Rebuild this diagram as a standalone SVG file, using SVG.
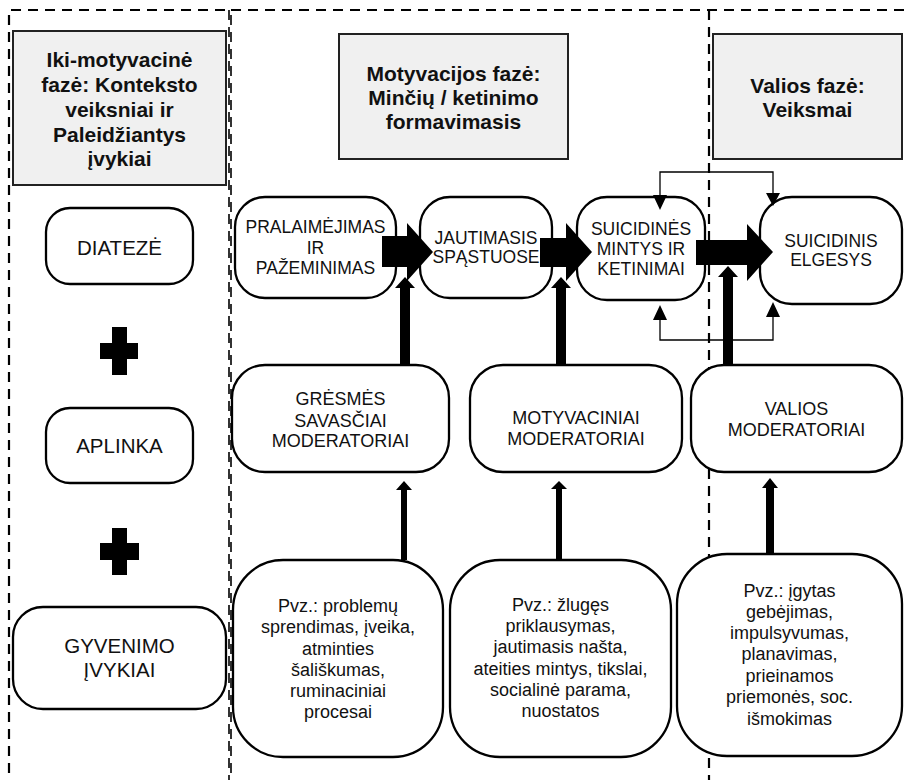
<svg xmlns="http://www.w3.org/2000/svg" width="906" height="780" viewBox="0 0 906 780">
<style>
.frame{fill:none;stroke:#000;stroke-width:2.2;stroke-dasharray:10 7}
.frame2{fill:none;stroke:#000;stroke-width:1.6;stroke-dasharray:10 7}
.hdr{fill:#f0f0f0;stroke:#222;stroke-width:2}
.ht{font-family:"Liberation Sans",Arial,sans-serif;font-weight:bold;font-size:21px;fill:#111;text-anchor:middle}
.box{fill:#fff;stroke:#000;stroke-width:2.3}
.t20{font-family:"Liberation Sans",Arial,sans-serif;font-size:20.5px;fill:#111;text-anchor:middle}
.t18{font-family:"Liberation Sans",Arial,sans-serif;font-size:18px;fill:#111;text-anchor:middle}
.t17{font-family:"Liberation Sans",Arial,sans-serif;font-size:17.5px;fill:#111;text-anchor:middle}
.big{fill:#000}
.thin{fill:none;stroke:#000;stroke-width:1.3}
</style>
<g id="frame">
<path class="frame" d="M9,790 V10 H229"/>
<path class="frame2" d="M229,10 V790"/>
<path class="frame2" d="M231,790 V10"/>
<path class="frame" d="M231,10 H910"/>
<path class="frame" d="M709,10 V780"/>
</g>
<g id="header-pre">
<rect class="hdr" x="13" y="31" width="213" height="154"/>
<text class="ht" x="119.5" y="67">Iki-motyvacinė</text>
<text class="ht" x="119.5" y="92">fazė: Konteksto</text>
<text class="ht" x="119.5" y="117">veiksniai ir</text>
<text class="ht" x="119.5" y="142">Paleidžiantys</text>
<text class="ht" x="119.5" y="166">įvykiai</text>
</g>
<g id="header-mot">
<rect class="hdr" x="339" y="34" width="229" height="125"/>
<text class="ht" x="453.5" y="81">Motyvacijos fazė:</text>
<text class="ht" x="453.5" y="105">Minčių / ketinimo</text>
<text class="ht" x="453.5" y="129">formavimasis</text>
</g>
<g id="header-val">
<rect class="hdr" x="713" y="34" width="189" height="125"/>
<text class="ht" x="807.5" y="93">Valios fazė:</text>
<text class="ht" x="807.5" y="117">Veiksmai</text>
</g>
<g id="diateze">
<rect class="box" x="46" y="208" width="147" height="76" rx="24"/>
<text class="t20" x="119.5" y="255">DIATEZĖ</text>
</g>
<g id="plus1">
<path class="big" d="M112,327 H127 V343 H138 V359 H127 V375 H112 V359 H100 V343 H112 Z"/>
</g>
<g id="aplinka">
<rect class="box" x="46" y="408" width="147" height="75" rx="24"/>
<text class="t20" x="119.5" y="453">APLINKA</text>
</g>
<g id="plus2">
<path class="big" d="M112,528 H127 V543 H139 V560 H127 V575 H112 V560 H100 V543 H112 Z"/>
</g>
<g id="gyvenimo">
<rect class="box" x="13" y="607" width="213" height="102" rx="30"/>
<text class="t20" x="119.5" y="653">GYVENIMO</text>
<text class="t20" x="119.5" y="677">ĮVYKIAI</text>
</g>
<g id="pralaimejimas">
<rect class="box" x="235" y="197" width="161" height="101" rx="30"/>
<text class="t17" x="315.5" y="233">PRALAIMĖJIMAS</text>
<text class="t17" x="315.5" y="254">IR</text>
<text class="t17" x="315.5" y="274">PAŽEMINIMAS</text>
</g>
<g id="jautimasis">
<rect class="box" x="420" y="197" width="132" height="101" rx="30"/>
<text class="t17" x="486" y="244">JAUTIMASIS</text>
<text class="t17" x="486" y="263">SPĄSTUOSE</text>
</g>
<g id="mintys">
<rect class="box" x="577" y="197" width="128" height="103" rx="30"/>
<text class="t17" x="641" y="235">SUICIDINĖS</text>
<text class="t17" x="641" y="255">MINTYS IR</text>
<text class="t17" x="641" y="275">KETINIMAI</text>
</g>
<g id="elgesys">
<rect class="box" x="760" y="197" width="142" height="107" rx="32"/>
<text class="t17" x="831" y="247">SUICIDINIS</text>
<text class="t17" x="831" y="266">ELGESYS</text>
</g>
<g id="gresmes">
<rect class="box" x="232" y="365" width="217" height="107" rx="33"/>
<text class="t18" x="340.5" y="405">GRĖSMĖS</text>
<text class="t18" x="340.5" y="427">SAVASČIAI</text>
<text class="t18" x="340.5" y="447">MODERATORIAI</text>
</g>
<g id="motyvaciniai">
<rect class="box" x="470" y="365" width="212" height="107" rx="33"/>
<text class="t18" x="576" y="424">MOTYVACINIAI</text>
<text class="t18" x="576" y="445">MODERATORIAI</text>
</g>
<g id="valios">
<rect class="box" x="691" y="365" width="211" height="107" rx="33"/>
<text class="t18" x="796.5" y="415">VALIOS</text>
<text class="t18" x="796.5" y="436">MODERATORIAI</text>
</g>
<g id="pvz1">
<rect class="box" x="233" y="560" width="210" height="197" rx="50"/>
<text class="t18" x="338" y="612">Pvz.: problemų</text>
<text class="t18" x="338" y="633">sprendimas, įveika,</text>
<text class="t18" x="338" y="655">atminties</text>
<text class="t18" x="338" y="676">šališkumas,</text>
<text class="t18" x="338" y="697">ruminaciniai</text>
<text class="t18" x="338" y="718">procesai</text>
</g>
<g id="pvz2">
<rect class="box" x="450" y="560" width="221" height="197" rx="50"/>
<text class="t18" x="560.5" y="611">Pvz.: žlugęs</text>
<text class="t18" x="560.5" y="632">priklausymas,</text>
<text class="t18" x="560.5" y="653">jautimasis našta,</text>
<text class="t18" x="560.5" y="675">ateities mintys, tikslai,</text>
<text class="t18" x="560.5" y="696">socialinė parama,</text>
<text class="t18" x="560.5" y="717">nuostatos</text>
</g>
<g id="pvz3">
<rect class="box" x="677" y="554" width="225" height="202" rx="50"/>
<text class="t18" x="789.5" y="597">Pvz.: įgytas</text>
<text class="t18" x="789.5" y="618">gebėjimas,</text>
<text class="t18" x="789.5" y="639">impulsyvumas,</text>
<text class="t18" x="789.5" y="660">planavimas,</text>
<text class="t18" x="789.5" y="682">prieinamos</text>
<text class="t18" x="789.5" y="703">priemonės, soc.</text>
<text class="t18" x="789.5" y="725">išmokimas</text>
</g>
<g id="connectors">
<path class="thin" d="M660,200 V172 H773 V196"/>
<path class="thin" d="M660,319 V340 H773 V316"/>
<polygon class="big" points="653,195 667,195 660,210"/>
<polygon class="big" points="766,193 780,193 773,206"/>
<polygon class="big" points="653,320 667,320 660,305"/>
<polygon class="big" points="766,317 780,317 773,302"/>
<polygon class="big" points="382,236 407,236 407,223 433,252 407,281 407,267 382,267"/>
<polygon class="big" points="540,238 566,238 566,223 592,252 566,281 566,267 540,267"/>
<polygon class="big" points="696,240 747,240 747,224 773,252 747,281 747,265 696,265"/>
<polygon class="big" points="400,365 400,288 395,288 405,277 415,288 410,288 410,365"/>
<polygon class="big" points="556,365 556,288 551,288 561,277 571,288 566,288 566,365"/>
<polygon class="big" points="723,365 723,277 718,277 728,266 738,277 733,277 733,365"/>
<polygon class="big" points="401,560 401,490 396,490 404,481 412,490 407,490 407,560"/>
<polygon class="big" points="556,560 556,489 551,489 559,481 567,489 562,489 562,560"/>
<polygon class="big" points="766,554 766,488 762,488 770,478 778,488 774,488 774,554"/>
</g>
</svg>
